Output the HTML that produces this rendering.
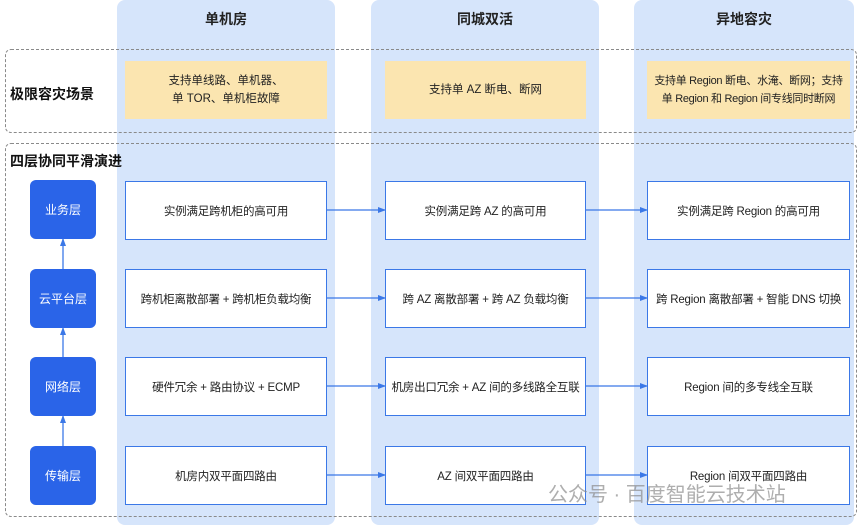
<!DOCTYPE html>
<html><head><meta charset="utf-8"><style>
body{margin:0;width:864px;height:525px;background:#fff;position:relative;overflow:hidden;font-family:"Liberation Sans","Noto Sans CJK SC",sans-serif;}
.col{position:absolute;top:0;height:525px;background:#d6e5fb;border-radius:8px;}
.h{position:absolute;top:9px;font-size:14px;font-weight:bold;color:#222;text-align:center;}
.dash{position:absolute;border:1.5px dashed #8a8a8a;border-radius:6px;}
.y{position:absolute;background:#fbe5b0;font-size:11.5px;color:#222;display:flex;align-items:center;justify-content:center;text-align:center;line-height:18px;white-space:nowrap;}
.w{position:absolute;background:#fff;border:1.5px solid #3b78e7;box-sizing:border-box;font-size:11.5px;color:#222;display:flex;align-items:center;justify-content:center;height:59px;white-space:nowrap;letter-spacing:-0.2px;}
.b{position:absolute;left:30px;width:66px;height:59px;background:#2a64e8;border-radius:6px;color:#fff;font-size:12px;display:flex;align-items:center;justify-content:center;}
.t{position:absolute;font-size:14px;font-weight:bold;color:#111;}
svg{position:absolute;left:0;top:0;}
</style></head><body>
<div class="col" style="left:117px;width:218px"></div>
<div class="col" style="left:371px;width:228px"></div>
<div class="col" style="left:634px;width:220px"></div>
<div class="h" style="left:117px;width:218px">单机房</div>
<div class="h" style="left:371px;width:228px">同城双活</div>
<div class="h" style="left:634px;width:220px">异地容灾</div>
<div class="dash" style="left:5px;top:49px;width:850px;height:82px"></div>
<div class="dash" style="left:5px;top:143px;width:850px;height:372px"></div>
<div class="t" style="left:10px;top:84px">极限容灾场景</div>
<div class="t" style="left:10px;top:151px">四层协同平滑演进</div>
<div class="y" style="left:125px;top:61px;width:202px;height:58px">支持单线路、单机器、<br>单 TOR、单机柜故障</div>
<div class="y" style="left:385px;top:61px;width:201px;height:58px">支持单 AZ 断电、断网</div>
<div class="y" style="left:647px;top:61px;width:203px;height:58px;font-size:11px;letter-spacing:-0.3px">支持单 Region 断电、水淹、断网；支持<br>单 Region 和 Region 间专线同时断网</div>
<div class="b" style="top:180px">业务层</div>
<div class="b" style="top:269px">云平台层</div>
<div class="b" style="top:357px">网络层</div>
<div class="b" style="top:446px">传输层</div>
<div class="w" style="left:125px;top:181px;width:202px">实例满足跨机柜的高可用</div>
<div class="w" style="left:385px;top:181px;width:201px">实例满足跨 AZ 的高可用</div>
<div class="w" style="left:647px;top:181px;width:203px">实例满足跨 Region 的高可用</div>
<div class="w" style="left:125px;top:269px;width:202px">跨机柜离散部署 + 跨机柜负载均衡</div>
<div class="w" style="left:385px;top:269px;width:201px">跨 AZ 离散部署 + 跨 AZ 负载均衡</div>
<div class="w" style="left:647px;top:269px;width:203px">跨 Region 离散部署 + 智能 DNS 切换</div>
<div class="w" style="left:125px;top:357px;width:202px">硬件冗余 + 路由协议 + ECMP</div>
<div class="w" style="left:385px;top:357px;width:201px">机房出口冗余 + AZ 间的多线路全互联</div>
<div class="w" style="left:647px;top:357px;width:203px">Region 间的多专线全互联</div>
<div class="w" style="left:125px;top:446px;width:202px">机房内双平面四路由</div>
<div class="w" style="left:385px;top:446px;width:201px">AZ 间双平面四路由</div>
<div class="w" style="left:647px;top:446px;width:203px">Region 间双平面四路由</div>
<svg width="864" height="525">
<defs><marker id="a" markerWidth="8" markerHeight="8" refX="7" refY="4" orient="auto" markerUnits="userSpaceOnUse"><path d="M0,1 L8,4 L0,7z" fill="#3b78e7"/></marker></defs>
<g stroke="#3b78e7" stroke-width="1.3" marker-end="url(#a)">
<line x1="327" y1="210" x2="385" y2="210"/><line x1="586" y1="210" x2="647" y2="210"/>
<line x1="327" y1="298" x2="385" y2="298"/><line x1="586" y1="298" x2="647" y2="298"/>
<line x1="327" y1="386" x2="385" y2="386"/><line x1="586" y1="386" x2="647" y2="386"/>
<line x1="327" y1="475" x2="385" y2="475"/><line x1="586" y1="475" x2="647" y2="475"/>
<line x1="63" y1="446" x2="63" y2="416"/><line x1="63" y1="357" x2="63" y2="328"/>
<line x1="63" y1="269" x2="63" y2="239"/>
</g>
</svg>
<div style="position:absolute;left:548px;top:478px;font-size:20px;color:rgba(140,140,140,0.7)">公众号 · 百度智能云技术站</div>
</body></html>
